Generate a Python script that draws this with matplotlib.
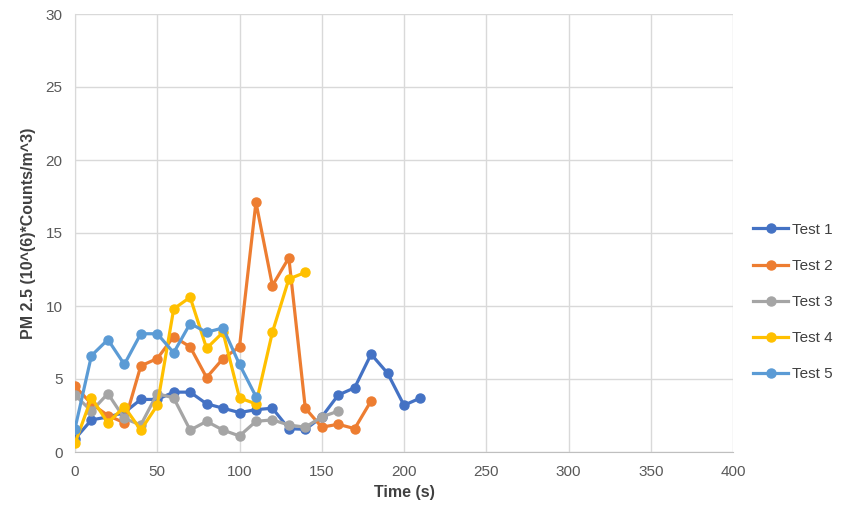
import matplotlib
matplotlib.use("Agg")
import matplotlib.pyplot as plt

plt.rcParams['font.family'] = ['Liberation Sans Narrow', 'Liberation Sans', 'DejaVu Sans']

series_names = ["Test 1", "Test 2", "Test 3", "Test 4", "Test 5"]

t1_time = [0, 10, 20, 30, 40, 50, 60, 70, 80, 90, 100, 110, 120, 130, 140, 150, 160, 170, 180, 190, 200, 210]
t1_vals = [0.9, 2.2, 2.4, 2.7, 3.6, 3.6, 4.1, 4.1, 3.3, 3.0, 2.7, 2.9, 3.0, 1.6, 1.55, 2.4, 3.9, 4.4, 6.7, 5.4, 3.2, 3.7]

t2_time = [0, 10, 20, 30, 40, 50, 60, 70, 80, 90, 100, 110, 120, 130, 140, 150, 160, 170, 180]
t2_vals = [4.5, 3.3, 2.5, 2.0, 5.9, 6.4, 7.9, 7.2, 5.1, 6.4, 7.2, 17.1, 11.4, 13.3, 3.0, 1.7, 1.9, 1.6, 3.5]

t3_time = [0, 10, 20, 30, 40, 50, 60, 70, 80, 90, 100, 110, 120, 130, 140, 150, 160]
t3_vals = [3.9, 2.8, 4.0, 2.3, 1.85, 4.0, 3.7, 1.5, 2.1, 1.5, 1.1, 2.1, 2.2, 1.85, 1.7, 2.4, 2.8]

t4_time = [0, 10, 20, 30, 40, 50, 60, 70, 80, 90, 100, 110, 120, 130, 140]
t4_vals = [0.6, 3.7, 2.0, 3.1, 1.5, 3.2, 9.8, 10.6, 7.1, 8.2, 3.7, 3.3, 8.2, 11.85, 12.3]

t5_time = [0, 10, 20, 30, 40, 50, 60, 70, 80, 90, 100, 110]
t5_vals = [1.6, 6.6, 7.7, 6.0, 8.1, 8.1, 6.8, 8.8, 8.2, 8.5, 6.0, 3.8]

x_ticks = [0, 50, 100, 150, 200, 250, 300, 350, 400]
y_ticks = [0, 5, 10, 15, 20, 25, 30]

colors = ["#4472C4", "#ED7D31", "#A5A5A5", "#FFC000", "#5B9BD5"]

fig = plt.figure(figsize=(8.48, 5.15), dpi=100)
ax = fig.add_axes([75/848, 1 - 452/515, (733 - 75)/848, (452 - 14)/515])

data = [(t1_time, t1_vals), (t2_time, t2_vals), (t3_time, t3_vals), (t4_time, t4_vals), (t5_time, t5_vals)]
for (tx, ty), name, c in zip(data, series_names, colors):
    ax.plot(tx, ty, color=c, lw=2.3, marker='o', markersize=6.5, label=name, zorder=3)

ax.set_xlim(0, 400)
ax.set_ylim(0, 30)
ax.set_xticks(x_ticks)
ax.set_yticks(y_ticks)
ax.grid(True, color='#D9D9D9', lw=1)
ax.set_axisbelow(True)
for s in ['top', 'right']:
    ax.spines[s].set_visible(False)
ax.spines['left'].set_color('#D9D9D9')
ax.spines['bottom'].set_color('#BFBFBF')
ax.tick_params(length=0, labelsize=11, colors='#595959', pad=9)

ax.set_xlabel("Time (s)", fontsize=11.5, fontweight='bold', color='#404040', labelpad=5)
ax.set_ylabel("PM 2.5 (10^(6)*Counts/m^3)", fontsize=11.5, fontweight='bold', color='#404040', labelpad=7)

leg = ax.legend(loc='center left', bbox_to_anchor=(1.01, (452 - 302) / 438), frameon=False,
                fontsize=11, labelspacing=1.45, handlelength=2.3, handletextpad=0.25)
for txt in leg.get_texts():
    txt.set_color('#404040')

fig.savefig("out.png", dpi=100)
